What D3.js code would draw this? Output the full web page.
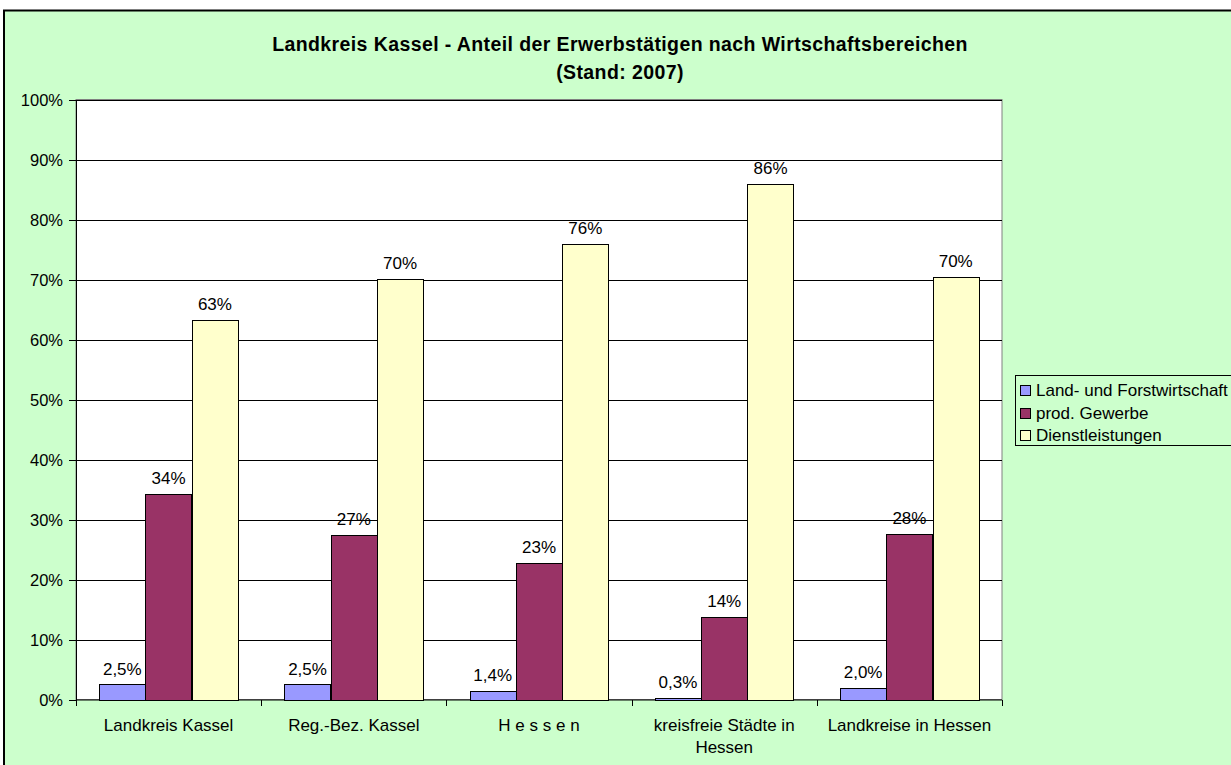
<!DOCTYPE html>
<html>
<head>
<meta charset="utf-8">
<script src="https://cdn.jsdelivr.net/npm/d3@7"></script>
<style>
  body { margin: 0; background: #fff; }
  text { font-family: "Liberation Sans", Arial, sans-serif; fill: #000; }
</style>
</head>
<body>
<div id="chart"></div>
<script>
// data
var categories = ["Landkreis Kassel", "Reg.-Bez. Kassel", "H e s s e n", "kreisfreie Städte in Hessen", "Landkreise in Hessen"];
var seriesNames = ["Land- und Forstwirtschaft", "prod. Gewerbe", "Dienstleistungen"];
var landForst = [2.5, 2.5, 1.4, 0.3, 2.0];
var prodGewerbe = [34.3, 27.4, 22.7, 13.8, 27.6];
var dienst = [63.2, 70.1, 75.9, 85.9, 70.4];
var yTicks = [0, 10, 20, 30, 40, 50, 60, 70, 80, 90, 100];
var colors = ["#9999FF", "#993366", "#FFFFCC"];

var W = 1231, H = 765;
var plot = {left: 76, top: 99.5, right: 1002, bottom: 699.5};

var svg = d3.select("#chart").append("svg")
    .attr("width", W).attr("height", H);

svg.append("rect").attr("x", 0).attr("y", 0).attr("width", W).attr("height", H).attr("fill", "#fff");
// chart area
svg.append("rect")
    .attr("x", 4).attr("y", 10.5).attr("width", W + 10).attr("height", H)
    .attr("fill", "#CCFFCC").attr("stroke", "#000").attr("stroke-width", 2);

// title
svg.append("text").attr("x", 620).attr("y", 51).attr("text-anchor", "middle")
    .style("font-weight", "bold").style("font-size", "19.5px").style("letter-spacing", "0.4px")
    .text("Landkreis Kassel - Anteil der Erwerbstätigen nach Wirtschaftsbereichen");
svg.append("text").attr("x", 620).attr("y", 78.5).attr("text-anchor", "middle")
    .style("font-weight", "bold").style("font-size", "19.5px").style("letter-spacing", "0.4px")
    .text("(Stand: 2007)");

var x0 = d3.scaleBand().domain(categories).range([plot.left, plot.right]).paddingInner(0).paddingOuter(0);
var x1 = d3.scaleBand().domain(seriesNames).range([0, x0.bandwidth()]).paddingOuter(0.5).paddingInner(0);
var y = d3.scaleLinear().domain([0, 100]).range([plot.bottom, plot.top]);

// plot area
svg.append("rect")
    .attr("x", plot.left).attr("y", plot.top)
    .attr("width", plot.right - plot.left).attr("height", plot.bottom - plot.top)
    .attr("fill", "#fff").attr("stroke", "#808080").attr("stroke-width", 1);

// gridlines
svg.append("g").selectAll("line").data(yTicks.slice(1)).enter().append("line")
    .attr("x1", plot.left).attr("x2", plot.right)
    .attr("y1", function(d){ return Math.round(y(d)) + 0.5; })
    .attr("y2", function(d){ return Math.round(y(d)) + 0.5; })
    .attr("stroke", "#000").attr("stroke-width", 1);

// y axis
var yAxis = svg.append("g")
    .attr("transform", "translate(" + plot.left + ",0.5)")
    .call(d3.axisLeft(y).tickValues(yTicks).tickSize(7).tickPadding(6)
        .tickFormat(function(d){ return d + "%"; }));
yAxis.select(".domain").attr("stroke", "#000");
yAxis.selectAll("text").style("font-size", "16.5px").attr("font-family", null);

// x axis
var xAxis = svg.append("g").attr("transform", "translate(0," + (plot.bottom + 0.5) + ")");
xAxis.append("line").attr("x1", plot.left).attr("x2", plot.right).attr("stroke", "#000");
xAxis.selectAll(".tk").data(d3.range(categories.length + 1)).enter().append("line")
    .attr("x1", function(i){ return Math.round(plot.left + i * x0.step()) + 0.5; })
    .attr("x2", function(i){ return Math.round(plot.left + i * x0.step()) + 0.5; })
    .attr("y1", 0).attr("y2", 6).attr("stroke", "#000");

var xLines = {"kreisfreie Städte in Hessen": ["kreisfreie Städte in", "Hessen"]};
categories.forEach(function(c){
    var lines = xLines[c] || [c];
    var t = svg.append("text")
        .attr("x", x0(c) + x0.bandwidth() / 2).attr("y", 731)
        .attr("text-anchor", "middle").style("font-size", "17px");
    lines.forEach(function(l, i){
        t.append("tspan").attr("x", x0(c) + x0.bandwidth() / 2).attr("dy", i ? 22 : 0).text(l);
    });
});

// bars
var allSeries = [landForst, prodGewerbe, dienst];
allSeries.forEach(function(vals, si){
    var g = svg.append("g");
    g.selectAll("rect").data(vals).enter().append("rect")
        .attr("x", function(d, i){ return Math.round(x0(categories[i]) + x1(seriesNames[si])) + 0.5; })
        .attr("y", function(d){ return Math.round(y(d)) + 0.5; })
        .attr("width", Math.round(x1.bandwidth()))
        .attr("height", function(d){ return Math.round(y(0)) - Math.round(y(d)); })
        .attr("fill", colors[si]).attr("stroke", "#000").attr("stroke-width", 1);
    g.selectAll("text").data(vals).enter().append("text")
        .attr("x", function(d, i){ return x0(categories[i]) + x1(seriesNames[si]) + x1.bandwidth() / 2; })
        .attr("y", function(d){ return y(d) - 10; })
        .attr("text-anchor", "middle").style("font-size", "17px")
        .text(function(d){ return si === 0 ? d.toFixed(1).replace(".", ",") + "%" : Math.round(d) + "%"; });
});

// legend
var lg = svg.append("g");
lg.append("rect").attr("x", 1015.5).attr("y", 375.5).attr("width", 240).attr("height", 70)
    .attr("fill", "#CCFFCC").attr("stroke", "#000").attr("stroke-width", 1);
seriesNames.forEach(function(s, i){
    var cy = 390 + i * 22.5;
    lg.append("rect").attr("x", 1020.5).attr("y", Math.round(cy - 5) + 0.5).attr("width", 10).attr("height", 10)
        .attr("fill", colors[i]).attr("stroke", "#000");
    lg.append("text").attr("x", 1036).attr("y", cy + 6).style("font-size", "17px").text(s);
});
</script>
</body>
</html>
